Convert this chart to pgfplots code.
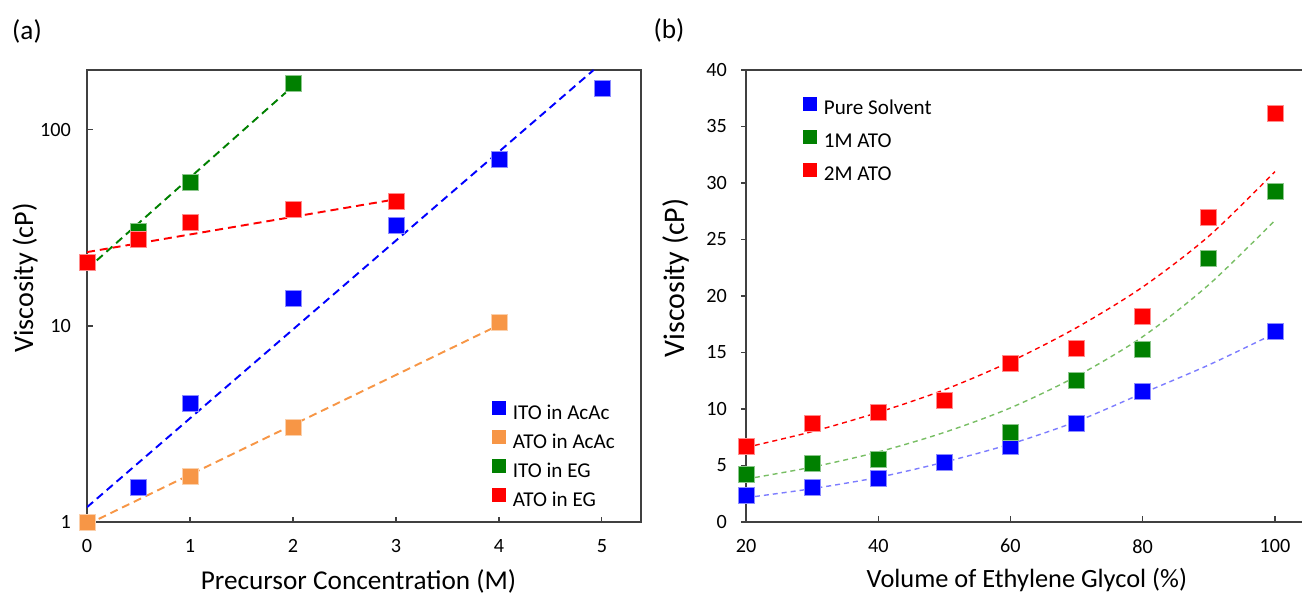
\documentclass[border=0pt]{standalone}
\usepackage{pgfplots}
\pgfplotsset{compat=1.18}
\usepackage{fontspec}
\setmainfont{Carlito}

\definecolor{cBlue}{RGB}{0,0,255}
\definecolor{cOrange}{RGB}{247,150,70}
\definecolor{cGreen}{RGB}{0,128,0}
\definecolor{cRed}{RGB}{255,0,0}
\definecolor{fBlue}{RGB}{125,125,255}
\definecolor{fGreen}{RGB}{120,190,100}
\definecolor{axisgray}{RGB}{64,64,64}

\begin{document}
\begin{tikzpicture}
\pgfplotsset{
  base/.style={
    scale only axis, height=9.04cm, anchor=south west,
    font=\fontsize{11.5}{13}\selectfont,
    /pgf/number format/assume math mode=true,
    axis line style={axisgray, line width=0.8pt},
    every tick/.style={axisgray, line width=0.7pt},
    tick pos=left, tick align=inside,
    major tick length=1.1mm, minor tick length=0.6mm,
    xticklabel style={yshift=-2.2mm},
    legend cell align=left,
    legend image code/.code={\fill[##1] (0mm,-0.05mm) rectangle (2.6mm,2.55mm); \path (3.8mm,1mm);},
  },
  pt/.style={only marks, mark=square*, mark size=1.6mm, color=#1,
    mark options={draw=white!55!#1, line width=0.4pt}},
  fitA/.style={#1, line width=1.1pt, dash pattern=on 1.6mm off 1mm, forget plot},
  fitB/.style={#1, line width=0.8pt, dash pattern=on 1mm off 0.8mm, forget plot, smooth},
}
\useasboundingbox (0cm,0cm) rectangle (26.04cm,11.9cm);

\node[font=\fontsize{15.5}{18}\selectfont] at (0.54cm,11.28cm) {(a)};
\node[font=\fontsize{15.5}{18}\selectfont] at (13.38cm,11.3cm) {(b)};

% (a) precursor concentration, log scale
\begin{axis}[base,
  at={(1.74cm,1.46cm)}, width=11.08cm,
  xmin=0, xmax=5.38, ymin=1, ymax=202,
  ymode=log, log basis y=10,
  xtick={0,1,2,3,4,5},
  ytick={1,10,100}, yticklabels={1,10,100},
  yticklabel style={xshift=-2mm},
  xlabel={Precursor Concentration (M)},
  ylabel={Viscosity (cP)},
  xlabel style={at={([yshift=-13.6mm]axis description cs:0.49,0)}, anchor=base, font=\fontsize{15.5}{18}\selectfont},
  ylabel style={at={([xshift=-10.8mm]axis description cs:0,0.54)}, anchor=base, font=\fontsize{16}{19}\selectfont},
  legend style={at={(axis description cs:0.731,0.268)}, anchor=north west,
    draw=none, fill=none, inner sep=0pt, row sep=1.35mm,
    font=\fontsize{12}{14}\selectfont,
    nodes={inner sep=0.5pt, text height=2.6mm, text depth=0.7mm}},
]
\addplot[pt=cBlue] coordinates {(0.5,1.51) (1,4.05) (2,13.9) (3,32.7) (4,71) (5,162)};
\addlegendentry{ITO in AcAc}
\addplot[pt=cOrange] coordinates {(0,1.0) (1,1.70) (2,3.05) (4,10.4)};
\addlegendentry{ATO in AcAc}
\addplot[pt=cGreen] coordinates {(0.5,30.5) (1,54.3) (2,172)};
\addlegendentry{ITO in EG}
\addplot[pt=cRed] coordinates {(0,21) (0.5,27.8) (1,33.6) (2,39.1) (3,43)};
\addlegendentry{ATO in EG}
\addplot[fitA=cBlue] coordinates {(0,1.19) (4.92,202)};
\addplot[fitA=cOrange] coordinates {(0,0.97) (4,10.1)};
\addplot[fitA=cGreen] coordinates {(0,19.5) (1.93,155)};
\addplot[fitA=cRed] coordinates {(0,23.8) (2.97,44)};
\end{axis}

% (b) ethylene glycol volume
\begin{axis}[base,
  at={(14.92cm,1.46cm)}, width=11.28cm,
  xmin=20, xmax=105.3, ymin=0, ymax=40,
  xtick={20,40,60,80,100},
  ytick={0,5,10,15,20,25,30,35,40},
  y tick style={xshift=-1mm},
  yticklabel style={xshift=-2.6mm},
  xlabel={Volume of Ethylene Glycol (\%)},
  ylabel={Viscosity (cP)},
  xlabel style={at={([yshift=-13.2mm]axis description cs:0.498,0)}, anchor=base, font=\fontsize{15}{18}\selectfont},
  ylabel style={at={([xshift=-12.4mm]axis description cs:0,0.54)}, anchor=base, font=\fontsize{17}{20}\selectfont},
  legend style={at={(axis description cs:0.101,0.941)}, anchor=north west,
    draw=none, fill=none, inner sep=0pt, row sep=2.15mm,
    font=\fontsize{12}{14}\selectfont,
    nodes={inner sep=0.5pt, text height=2.6mm, text depth=0.7mm}},
]
\addplot[pt=cBlue] coordinates {(20,2.35) (30,3.1) (40,3.85) (50,5.3) (60,6.7) (70,8.7) (80,11.55) (100,16.9)};
\addlegendentry{Pure Solvent}
\addplot[pt=cGreen] coordinates {(20,4.2) (30,5.2) (40,5.5) (60,7.9) (70,12.5) (80,15.3) (90,23.3) (100,29.3)};
\addlegendentry{1M ATO}
\addplot[pt=cRed] coordinates {(20,6.7) (30,8.7) (40,9.7) (50,10.8) (60,14.0) (70,15.4) (80,18.2) (90,27.0) (100,36.2)};
\addlegendentry{2M ATO}
\addplot[fitB=fBlue] coordinates {(20,2.15) (30,2.95) (40,3.95) (50,5.3) (60,6.9) (70,8.9) (80,11.4) (90,13.9) (100,16.7)};
\addplot[fitB=fGreen] coordinates {(20,3.8) (30,4.86) (40,6.2) (50,7.93) (60,10.1) (70,12.9) (80,16.4) (90,21.0) (100,26.7)};
\addplot[fitB=cRed] coordinates {(20,6.6) (30,8.0) (40,9.7) (50,11.7) (60,14.2) (70,17.2) (80,20.8) (90,25.3) (100,31.0)};
\end{axis}
\end{tikzpicture}
\end{document}
